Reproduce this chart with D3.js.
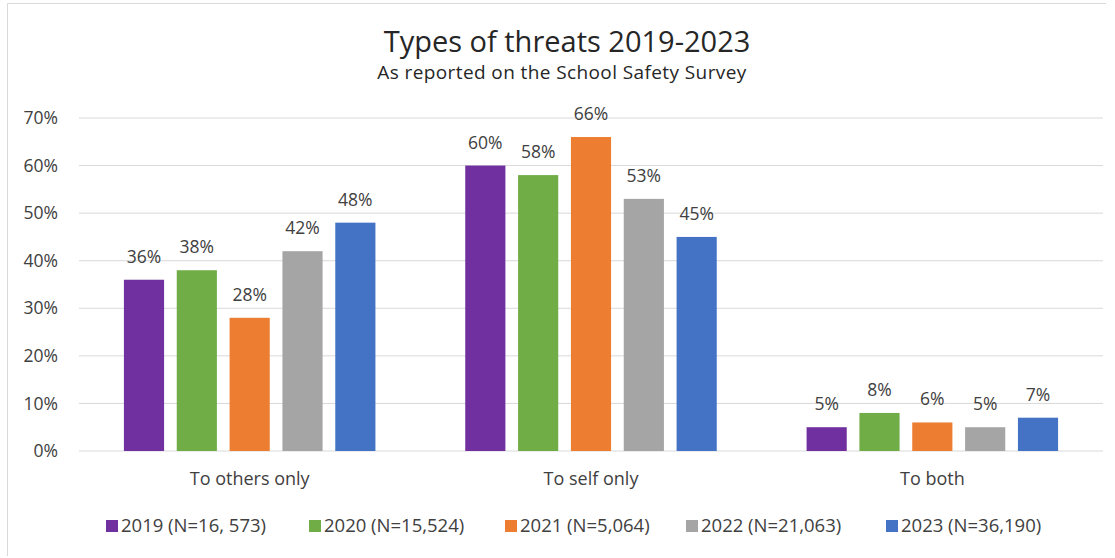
<!DOCTYPE html>
<html>
<head>
<meta charset="utf-8">
<script src="https://cdn.jsdelivr.net/npm/d3@7"></script>
<style>
  body { margin: 0; background: #fff; }
  svg { font-family: "Open Sans", "Noto Sans", sans-serif; }
</style>
</head>
<body>
<div id="chart"></div>
<script>
const categories = ['To others only', 'To self only', 'To both'];
const seriesNames = ['2019 (N=16, 573)', '2020 (N=15,524)', '2021 (N=5,064)', '2022 (N=21,063)', '2023 (N=36,190)'];
const seriesColors = ['#7030a0', '#70ad47', '#ed7d31', '#a5a5a5', '#4472c4'];
const v2019 = [36, 60, 5];
const v2020 = [38, 58, 8];
const v2021 = [28, 66, 6];
const v2022 = [42, 53, 5];
const v2023 = [48, 45, 7];
const yTicks = [0, 10, 20, 30, 40, 50, 60, 70];

const series = [v2019, v2020, v2021, v2022, v2023];

const width = 1115, height = 558;
const margin = { top: 118, right: 12, bottom: 107, left: 79 };
const textColor = '#404040';

const svg = d3.select('#chart').append('svg')
    .attr('width', width)
    .attr('height', height);

// frame: only top and left edges show in the picture
svg.append('path')
    .attr('d', 'M7.5,556V3.5H1106')
    .attr('fill', 'none')
    .attr('stroke', '#d9d9d9');

const x0 = d3.scaleBand()
    .domain(categories)
    .range([margin.left, width - margin.right]);

const x1 = d3.scaleBand()
    .domain(d3.range(series.length))
    .range([0, x0.bandwidth()])
    .paddingInner(0.24)
    .paddingOuter(0.85);

const y = d3.scaleLinear()
    .domain([0, 70])
    .range([height - margin.bottom, margin.top]);

// gridlines
svg.append('g')
    .selectAll('line')
    .data(yTicks)
    .enter().append('line')
    .attr('x1', margin.left)
    .attr('x2', width - margin.right)
    .attr('y1', d => y(d))
    .attr('y2', d => y(d))
    .attr('stroke', '#d9d9d9');

// y axis labels
svg.append('g')
    .selectAll('text')
    .data(yTicks)
    .enter().append('text')
    .attr('x', 58)
    .attr('y', d => y(d))
    .attr('dy', '0.35em')
    .attr('text-anchor', 'end')
    .attr('font-size', 17.5)
    .attr('fill', textColor)
    .text(d => d + '%');

// bars
const groups = svg.append('g')
    .selectAll('g')
    .data(series)
    .enter().append('g')
    .attr('fill', (d, i) => seriesColors[i]);

groups.each(function(vals, si) {
    const g = d3.select(this);
    g.selectAll('rect')
        .data(vals)
        .enter().append('rect')
        .attr('x', (d, ci) => x0(categories[ci]) + x1(si))
        .attr('width', x1.bandwidth())
        .attr('y', d => y(d))
        .attr('height', d => y(0) - y(d));
    g.selectAll('text')
        .data(vals)
        .enter().append('text')
        .attr('x', (d, ci) => x0(categories[ci]) + x1(si) + x1.bandwidth() / 2)
        .attr('y', d => y(d) - 17)
        .attr('text-anchor', 'middle')
        .attr('font-size', 17.5)
        .attr('fill', textColor)
        .text(d => d + '%');
});

// category labels
svg.append('g')
    .selectAll('text')
    .data(categories)
    .enter().append('text')
    .attr('x', d => x0(d) + x0.bandwidth() / 2)
    .attr('y', height - margin.bottom + 34)
    .attr('text-anchor', 'middle')
    .attr('font-size', 18)
    .attr('fill', textColor)
    .text(d => d);

// title
svg.append('text')
    .attr('x', 567).attr('y', 52)
    .attr('text-anchor', 'middle')
    .attr('font-size', 29)
    .attr('fill', '#262626')
    .text('Types of threats 2019-2023');

svg.append('text')
    .attr('x', 562).attr('y', 79)
    .attr('text-anchor', 'middle')
    .attr('font-size', 19)
    .attr('letter-spacing', 0.4)
    .attr('fill', '#262626')
    .text('As reported on the School Safety Survey');

// legend
const legendX = [106, 309, 505, 686, 886];
const legend = svg.append('g')
    .selectAll('g')
    .data(seriesNames)
    .enter().append('g')
    .attr('transform', (d, i) => `translate(${legendX[i]},526)`);

legend.append('rect')
    .attr('x', 0).attr('y', -6)
    .attr('width', 12).attr('height', 12)
    .attr('fill', (d, i) => seriesColors[i]);

legend.append('text')
    .attr('x', 15)
    .attr('y', 0)
    .attr('dy', '0.35em')
    .attr('font-size', 18.5)
    .attr('fill', textColor)
    .text(d => d);
</script>
</body>
</html>
